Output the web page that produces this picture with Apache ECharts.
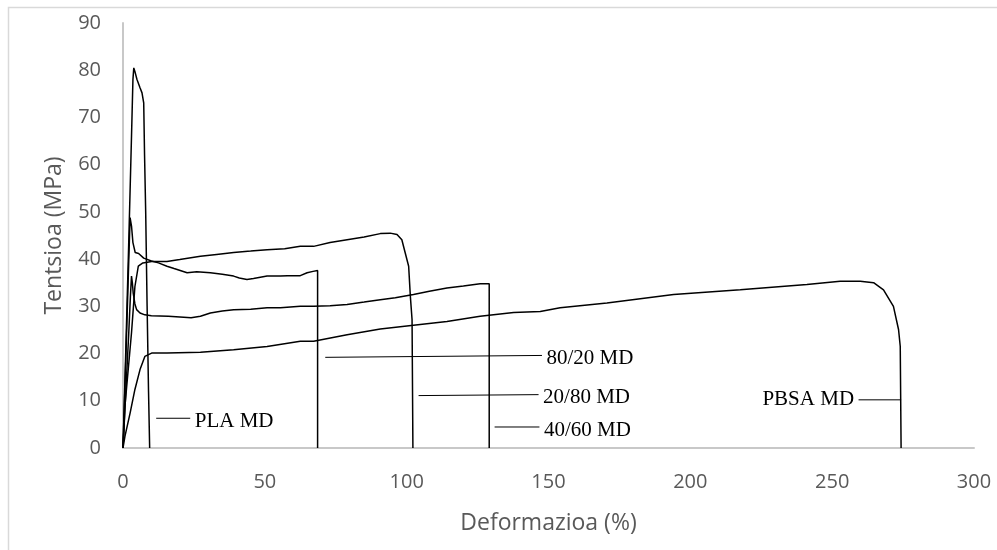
<!DOCTYPE html>
<html>
<head>
<meta charset="utf-8">
<script src="https://cdn.jsdelivr.net/npm/echarts@6/dist/echarts.min.js"></script>
<style>
  html, body { margin: 0; padding: 0; background: #fff; }
  #chart { width: 997px; height: 550px; }
</style>
</head>
<body>
<div id="chart"></div>
<script>
// tentsio-deformazio kurbak, [deformazioa %, tentsioa MPa]
var plaMD = [[0, 0], [1, 21], [2, 43], [3, 66], [3.5, 78], [3.8, 80.5], [4.3, 79.5], [4.9, 78.1],
  [6, 76.3], [6.7, 75.2], [7.3, 73.1], [7.6, 62], [8, 50], [8.5, 30], [9, 12], [9.4, 0]]

var md8020 = [[0, 0], [1, 19], [2, 39], [2.5, 48.8], [3, 47], [3.5, 43.5], [4.3, 41.4], [5.5, 41.2],
  [7.3, 40.2], [10, 39.6], [12.5, 39.2], [15.5, 38.5], [18, 38], [22.6, 37.1], [26, 37.3],
  [30.8, 37.1], [35, 36.8], [39, 36.4], [41, 36], [43.7, 35.7], [46, 35.9], [50.8, 36.4],
  [55.5, 36.4], [58, 36.5], [62.5, 36.5], [64.9, 37.1], [67, 37.4], [68.6, 37.6], [68.6, 0]]

var md2080 = [[0, 0], [0.7, 9], [1.9, 17], [3, 24.4], [3.6, 29.3], [4.2, 34.2], [5.4, 38.5],
  [7, 39.2], [10.1, 39.5], [15.5, 39.5], [20, 39.9], [27.3, 40.6], [33, 41], [39, 41.4],
  [45, 41.7], [50.8, 42], [57, 42.2], [62.5, 42.7], [67.2, 42.7], [73, 43.5], [79, 44.1],
  [85, 44.7], [90.7, 45.4], [94.2, 45.5], [96.6, 45.2], [98.3, 44.1], [99.5, 41.3],
  [100.7, 38.5], [101.3, 32.1], [101.9, 27.2], [102.2, 0]]

var md4060 = [[0, 0], [1, 12], [2, 24], [2.6, 32], [3, 36.4], [3.3, 35], [3.6, 32.8], [4.2, 30.5],
  [4.8, 29.3], [6, 28.6], [7.7, 28.2], [10, 28], [16, 27.9], [21.4, 27.7], [24, 27.6],
  [27.3, 27.9], [30.8, 28.6], [35, 29], [39, 29.3], [45, 29.4], [50.8, 29.7], [55.5, 29.7],
  [62.5, 30], [67.2, 30], [73, 30.1], [79, 30.4], [85, 30.9], [90.7, 31.4], [96, 31.8],
  [102.4, 32.5], [108, 33.2], [114.2, 33.9], [120, 34.3], [125.9, 34.8], [129.1, 34.8], [129.1, 0]]

var pbsaMD = [[0, 0], [0.7, 2.5], [2.5, 7.4], [4.2, 12.4], [6, 16.6], [7.7, 19.4], [10.1, 20.1],
  [15.5, 20.1], [27.3, 20.3], [39, 20.8], [50.8, 21.5], [62.5, 22.6], [67.2, 22.6], [79, 24],
  [90.7, 25.2], [102.4, 26], [114.2, 26.8], [125.9, 27.9], [137.7, 28.7], [147.1, 28.9],
  [154.1, 29.7], [170.6, 30.7], [194.1, 32.5], [217.6, 33.5], [241.1, 34.6], [252.8, 35.3],
  [259.9, 35.3], [264.6, 35], [268.1, 33.5], [271.6, 30], [273.4, 25.1], [274, 21.5], [274.3, 0]]

// etiketen marra laguntzaileak (hasiera eta amaiera puntuak)
var labelNames = ['PLA MD', '80/20 MD', '20/80 MD', '40/60 MD', 'PBSA MD']
var leaderLines = [
  [[11.7, 6.3], [23.7, 6.3]],
  [[71.3, 19.2], [147.7, 19.6]],
  [[104.2, 11.1], [146.5, 11.3]],
  [[131, 4.45], [146.8, 4.45]],
  [[259.3, 10.2], [274.3, 10.2]]
]
var labelSide = ['right', 'right', 'right', 'right', 'left']

var xTicks = { min: 0, max: 300, interval: 50 }
var yTicks = { min: 0, max: 90, interval: 10 }

var curves = [plaMD, md8020, md2080, md4060, pbsaMD]

var series = curves.map(function (d, i) {
  return {
    name: labelNames[i],
    type: 'line',
    data: d,
    showSymbol: false,
    symbol: 'none',
    lineStyle: { color: '#000', width: 1.5 },
    z: 3
  }
})

leaderLines.forEach(function (seg, i) {
  var side = labelSide[i]
  var pts = seg.map(function (p, j) {
    var item = { value: p }
    var isEnd = side === 'right' ? j === 1 : j === 0
    if (isEnd) {
      item.label = {
        show: true,
        position: side,
        distance: 4,
        formatter: labelNames[i],
        fontFamily: '"Liberation Serif", "Times New Roman", serif',
        fontSize: 21,
        color: '#000',
        offset: [0, side === 'right' ? 3 : 0]
      }
    }
    return item
  })
  series.push({
    type: 'line',
    data: pts,
    showSymbol: true,
    symbol: 'circle',
    symbolSize: 1,
    itemStyle: { color: 'rgba(0,0,0,0)' },
    lineStyle: { color: '#000', width: 1 },
    silent: true,
    z: 4
  })
})

var chart = echarts.init(document.getElementById('chart'))
var option = {
  animation: false,
  backgroundColor: '#fff',
  grid: { left: 123, right: 23, top: 23, bottom: 102 },
  graphic: [
    {
      type: 'rect',
      shape: { x: 8.5, y: 7.5, width: 1000, height: 600 },
      style: { fill: null, stroke: '#d9d9d9', lineWidth: 1.5 },
      silent: true,
      z: -1
    }
  ],
  xAxis: {
    type: 'value',
    min: xTicks.min,
    max: xTicks.max,
    interval: xTicks.interval,
    name: 'Deformazioa (%)',
    nameLocation: 'middle',
    nameGap: 64,
    nameTextStyle: { fontFamily: '"Open Sans", sans-serif', fontSize: 23, color: '#595959' },
    axisLine: { show: true, lineStyle: { color: '#c8c8c8', width: 2 } },
    axisTick: { show: false },
    splitLine: { show: false },
    axisLabel: { fontFamily: '"Open Sans", sans-serif', fontSize: 20, color: '#595959', margin: 24 }
  },
  yAxis: {
    type: 'value',
    min: yTicks.min,
    max: yTicks.max,
    interval: yTicks.interval,
    name: 'Tentsioa (MPa)',
    nameLocation: 'middle',
    nameGap: 57,
    nameTextStyle: { fontFamily: '"Open Sans", sans-serif', fontSize: 23, color: '#595959' },
    axisLine: { show: true, lineStyle: { color: '#c8c8c8', width: 2 } },
    axisTick: { show: false },
    splitLine: { show: false },
    axisLabel: { fontFamily: '"Open Sans", sans-serif', fontSize: 20, color: '#595959', margin: 22 }
  },
  series: series
}
chart.setOption(option)
</script>
</body>
</html>
